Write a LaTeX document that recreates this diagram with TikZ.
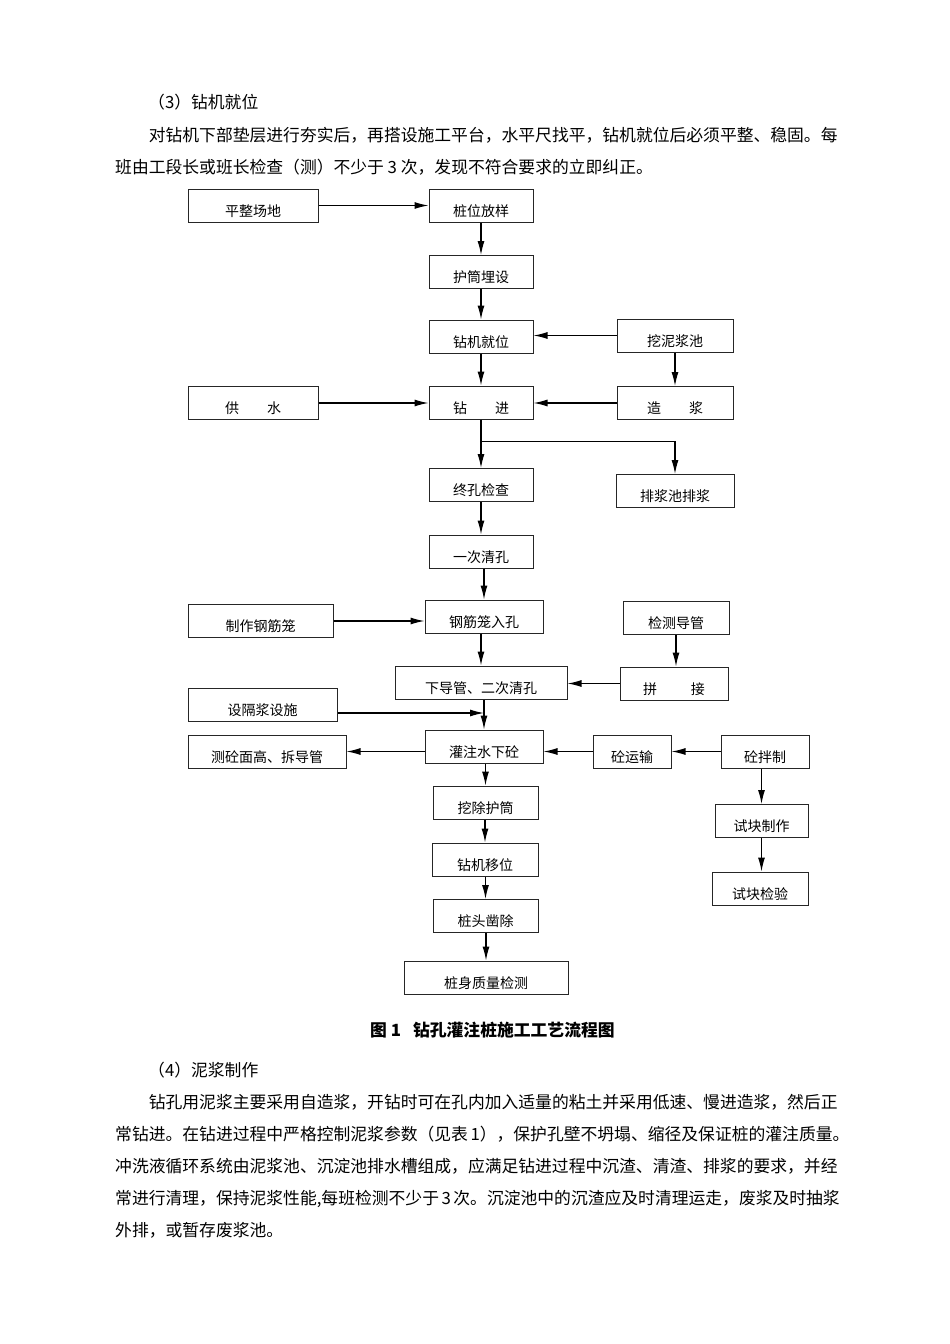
\documentclass[tikz,border=0pt]{standalone}
\usepackage{fontspec}
\setmainfont{Noto Sans CJK SC}
\XeTeXlinebreaklocale "zh"
\XeTeXlinebreakskip=0pt plus 2pt
\usetikzlibrary{arrows.meta, calc}

\newcommand{\bodysize}{\fontsize{16.8}{20}\selectfont}
\newcommand{\boxsize}{\fontsize{14}{16}\selectfont}

\begin{document}
\begin{tikzpicture}[x=1pt, y=-1pt, >=Latex]

\tikzset{
  procbox/.style={rectangle, draw=black!85, line width=1pt, font=\boxsize,
    inner xsep=3pt, inner ysep=0pt, text height=27pt, text depth=6pt},
  flowline/.style={-{Latex[length=14pt,width=7pt]}, line width=1.2pt},
  bodyline/.style={anchor=base west, inner sep=0pt, font=\bodysize},
  figcaption/.style={anchor=base west, inner sep=0pt, font=\bodysize\bfseries},
}

\fill[white] (0,0) rectangle (950,1344);
\useasboundingbox (0,0) rectangle (950,1344);

% ---- text above ----
\node[bodyline] (headthree) at (148,108.4) {（3）钻机就位};
\node[bodyline] (parathreea) at (148.6,141.4)
  {\makebox[689.4pt][s]{对钻机下部垫层进行夯实后，再搭设施工平台，水平尺找平，钻机就位后必须平整、稳固。每}};
\node[bodyline] (parathreeb) at (115,173.4)
  {班由工段长或班长检查（测）不少于 3 次，发现不符合要求的立即纠正。};

% ---- main column ----
\node[procbox, minimum width=104pt] (layout)    at (481,205.5) {桩位放样};
\node[procbox, minimum width=104pt] (casing)    at (481,272)   {护筒埋设};
\node[procbox, minimum width=104pt] (rigset)    at (481,336.5) {钻机就位};
\node[procbox, minimum width=104pt] (drill)     at (481,402.5) {钻\hspace{2em}进};
\node[procbox, minimum width=104pt] (holecheck) at (481,485)   {终孔检查};
\node[procbox, minimum width=104pt] (cleanone)  at (481,551.5) {一次清孔};
\node[procbox, minimum width=118pt] (cagein)    at (484,616.5) {钢筋笼入孔};
\node[procbox, minimum width=172pt] (tremie)    at (481,682.5) {下导管、二次清孔};
\node[procbox, minimum width=118pt] (pour)      at (484,746.5) {灌注水下砼};
\node[procbox, minimum width=105pt] (casingout) at (485.5,802.5) {挖除护筒};
\node[procbox, minimum width=106pt] (rigmove)   at (485,859.5) {钻机移位};
\node[procbox, minimum width=105pt] (headcut)   at (485.5,916) {桩头凿除};
\node[procbox, minimum width=164pt] (integrity) at (486,977.5) {桩身质量检测};

% ---- left side ----
\node[procbox, minimum width=130pt] (site)     at (253,205.5) {平整场地};
\node[procbox, minimum width=130pt] (water)    at (253,403)   {供\hspace{2em}水};
\node[procbox, minimum width=145pt] (cagemake) at (260.5,621) {制作钢筋笼};
\node[procbox, minimum width=149pt] (isolate)  at (262.5,704.5) {设隔浆设施};
\node[procbox, minimum width=158pt] (measure)  at (267,751.5) {测砼面高、拆导管};

% ---- right side ----
\node[procbox, minimum width=116pt] (mudpit)    at (675,335.5) {挖泥浆池};
\node[procbox, minimum width=116pt] (slurry)    at (675,403)   {造\hspace{2em}浆};
\node[procbox, minimum width=118pt] (discharge) at (675,491)   {排浆池排浆};
\node[procbox, minimum width=106pt] (pipecheck) at (676,618)   {检测导管};
\node[procbox, minimum width=108pt] (splice)    at (674,683.5) {拼\hspace{2.4em}接};
\node[procbox, minimum width=78pt]  (transport) at (632,751.5) {砼运输};
\node[procbox, minimum width=88pt]  (mixing)    at (765,751.5) {砼拌制};
\node[procbox, minimum width=93pt]  (specmake)  at (761.5,821) {试块制作};
\node[procbox, minimum width=96pt]  (spectest)  at (760,888.5) {试块检验};

% ---- connectors ----
\foreach \upper/\lower in {layout/casing, casing/rigset, rigset/drill, drill/holecheck,
    holecheck/cleanone, cleanone/cagein, cagein/tremie, tremie/pour, pour/casingout,
    casingout/rigmove, rigmove/headcut, headcut/integrity}
  \draw[flowline] (\lower.north |- \upper.south) -- (\lower.north);

\draw[flowline] (site.east) -- (site.east -| layout.west);
\draw[flowline] (mudpit.west) -- (mudpit.west -| rigset.east);
\draw[flowline] (mudpit.south) -- (mudpit.south |- slurry.north);
\draw[flowline] (slurry.west) -- (slurry.west -| drill.east);
\draw[flowline] (water.east) -- (water.east -| drill.west);

\coordinate (branchpt) at ($(drill.south)!0.45!(holecheck.north)$);
\draw[flowline] (branchpt) -| (discharge.north);

\draw[flowline] (cagemake.east) -- (cagemake.east -| cagein.west);
\draw[flowline] (pipecheck.south) -- (pipecheck.south |- splice.north);
\draw[flowline] (splice.west) -- (splice.west -| tremie.east);

\coordinate (isolatetip) at ($(tremie.south -| pour.north)!0.45!(pour.north)$);
\draw[flowline] (isolate.east |- isolatetip) -- (isolatetip);

\draw[flowline] (pour.west |- measure.east) -- (measure.east);
\draw[flowline] (transport.west) -- (transport.west -| pour.east);
\draw[flowline] (mixing.west) -- (mixing.west -| transport.east);
\draw[flowline] (specmake.north |- mixing.south) -- (specmake.north);
\draw[flowline] (specmake.south) -- (specmake.south |- spectest.north);

% ---- caption and text below ----
\node[figcaption] (figtitle) at (370,1036.5) {图 1\hspace{12pt}钻孔灌注桩施工工艺流程图};

\node[bodyline] (headfour) at (148,1076) {（4）泥浆制作};
\node[bodyline] (parafoura) at (148.6,1108)
  {\makebox[689.4pt][s]{钻孔用泥浆主要采用自造浆，开钻时可在孔内加入适量的粘土并采用低速、慢进造浆，然后正}};
\node[bodyline] (parafourb) at (115,1140)
  {\makebox[723pt][s]{常钻进。在钻进过程中严格控制泥浆参数（见表 1），保护孔壁不坍塌、缩径及保证桩的灌注质量。}};
\node[bodyline] (parafourc) at (115,1172)
  {\makebox[723pt][s]{冲洗液循环系统由泥浆池、沉淀池排水槽组成，应满足钻进过程中沉渣、清渣、排浆的要求，并经}};
\node[bodyline] (parafourd) at (115,1204)
  {\makebox[723pt][s]{常进行清理，保持泥浆性能,每班检测不少于 3 次。沉淀池中的沉渣应及时清理运走，废浆及时抽浆}};
\node[bodyline] (parafoure) at (115,1236) {外排，或暂存废浆池。};

\end{tikzpicture}
\end{document}
